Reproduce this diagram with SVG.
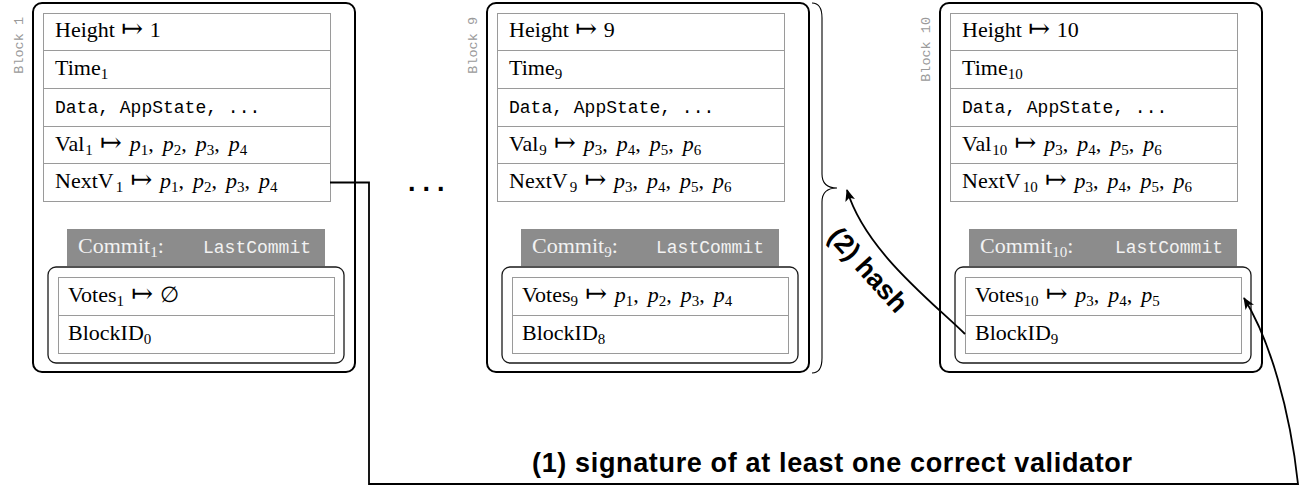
<svg xmlns="http://www.w3.org/2000/svg" width="1303" height="486" viewBox="0 0 1303 486">
<defs>
<style>
.ob{fill:#fff;stroke:#000;stroke-width:2}
.tb{fill:#fff;stroke:#9a9a9a;stroke-width:1}
.ln{fill:none;stroke:#9a9a9a;stroke-width:1}
.ib{fill:#fff;stroke:#1a1a1a;stroke-width:1.3}
.gb{fill:#8c8c8c}
.t{font-family:"Liberation Serif","DejaVu Serif",serif;font-size:22px;fill:#000}
.m{font-family:"Liberation Mono","DejaVu Sans Mono",monospace;font-size:18px;fill:#000}
.s{font-size:15px}
.ar{font-size:26px}
.i{font-style:italic}
.cm{fill:#f2f2f2}
.bl{font-family:"Liberation Mono","DejaVu Sans Mono",monospace;font-size:13.5px;fill:#9a9a9a}
.lab{font-family:"Liberation Sans","DejaVu Sans",sans-serif;font-weight:bold;font-size:27px;fill:#000}
.cn{fill:none;stroke:#000;stroke-width:1.8}
.br{fill:none;stroke:#000;stroke-width:1.1}
</style>
<marker id="ah" markerWidth="13" markerHeight="10" refX="11" refY="5" orient="auto" markerUnits="userSpaceOnUse">
<path d="M0,0 L12,5 L0,10 L3,5 z" fill="#000"/>
</marker>
</defs>
<rect width="1303" height="486" fill="#fff"/>

<g id="block1">
<text class="bl" transform="rotate(-90 23 17)" x="23" y="17" text-anchor="end">Block 1</text>
<rect class="ob" x="33" y="3" width="322" height="369" rx="9"/>
<rect class="tb" x="43.5" y="13.5" width="287" height="188"/>
<path class="ln" d="M43.5,50.5H330.5M43.5,88.5H330.5M43.5,126.5H330.5M43.5,163.5H330.5"/>
<text class="t" x="55" y="37">Height<tspan class="ar" dx="6">↦</tspan><tspan dx="7">1</tspan></text>
<text class="t" x="55" y="75">Time<tspan class="s" dy="4">1</tspan></text>
<text class="m" x="55" y="113">Data, AppState, ...</text>
<text class="t" x="55" y="151">Val<tspan class="s" dy="4" dx="1">1</tspan><tspan class="ar" dy="-4" dx="7">↦</tspan><tspan class="i" dx="8">p</tspan><tspan class="s" dy="4">1</tspan><tspan dy="-4">,</tspan><tspan class="i" dx="9">p</tspan><tspan class="s" dy="4">2</tspan><tspan dy="-4">,</tspan><tspan class="i" dx="9">p</tspan><tspan class="s" dy="4">3</tspan><tspan dy="-4">,</tspan><tspan class="i" dx="9">p</tspan><tspan class="s" dy="4">4</tspan></text>
<text class="t" x="55" y="188">NextV<tspan class="s" dy="4" dx="2">1</tspan><tspan class="ar" dy="-4" dx="7">↦</tspan><tspan class="i" dx="8">p</tspan><tspan class="s" dy="4">1</tspan><tspan dy="-4">,</tspan><tspan class="i" dx="9">p</tspan><tspan class="s" dy="4">2</tspan><tspan dy="-4">,</tspan><tspan class="i" dx="9">p</tspan><tspan class="s" dy="4">3</tspan><tspan dy="-4">,</tspan><tspan class="i" dx="9">p</tspan><tspan class="s" dy="4">4</tspan></text>
<rect class="gb" x="67" y="229" width="258" height="37"/>
<text class="t cm" x="78" y="253">Commit<tspan class="s" dy="4">1</tspan><tspan dy="-4">:</tspan></text>
<text class="m cm" x="203" y="253">LastCommit</text>
<rect class="ib" x="48" y="267" width="296" height="96" rx="8"/>
<rect class="tb" x="58.5" y="277.5" width="276" height="76"/>
<path class="ln" d="M58.5,315.5H334.5"/>
<text class="t" x="68" y="302">Votes<tspan class="s" dy="4">1</tspan><tspan class="ar" dy="-4" dx="7">↦</tspan><tspan dx="7">∅</tspan></text>
<text class="t" x="68" y="340">BlockID<tspan class="s" dy="4">0</tspan></text>
</g>

<g id="dots">
<text class="lab" x="408" y="191" letter-spacing="7">...</text>
</g>

<g id="block9" transform="translate(454,0)">
<text class="bl" transform="rotate(-90 23 17)" x="23" y="17" text-anchor="end">Block 9</text>
<rect class="ob" x="33" y="3" width="322" height="369" rx="9"/>
<rect class="tb" x="43.5" y="13.5" width="287" height="188"/>
<path class="ln" d="M43.5,50.5H330.5M43.5,88.5H330.5M43.5,126.5H330.5M43.5,163.5H330.5"/>
<text class="t" x="55" y="37">Height<tspan class="ar" dx="6">↦</tspan><tspan dx="7">9</tspan></text>
<text class="t" x="55" y="75">Time<tspan class="s" dy="4">9</tspan></text>
<text class="m" x="55" y="113">Data, AppState, ...</text>
<text class="t" x="55" y="151">Val<tspan class="s" dy="4" dx="1">9</tspan><tspan class="ar" dy="-4" dx="7">↦</tspan><tspan class="i" dx="8">p</tspan><tspan class="s" dy="4">3</tspan><tspan dy="-4">,</tspan><tspan class="i" dx="9">p</tspan><tspan class="s" dy="4">4</tspan><tspan dy="-4">,</tspan><tspan class="i" dx="9">p</tspan><tspan class="s" dy="4">5</tspan><tspan dy="-4">,</tspan><tspan class="i" dx="9">p</tspan><tspan class="s" dy="4">6</tspan></text>
<text class="t" x="55" y="188">NextV<tspan class="s" dy="4" dx="2">9</tspan><tspan class="ar" dy="-4" dx="7">↦</tspan><tspan class="i" dx="8">p</tspan><tspan class="s" dy="4">3</tspan><tspan dy="-4">,</tspan><tspan class="i" dx="9">p</tspan><tspan class="s" dy="4">4</tspan><tspan dy="-4">,</tspan><tspan class="i" dx="9">p</tspan><tspan class="s" dy="4">5</tspan><tspan dy="-4">,</tspan><tspan class="i" dx="9">p</tspan><tspan class="s" dy="4">6</tspan></text>
<rect class="gb" x="67" y="229" width="258" height="37"/>
<text class="t cm" x="78" y="253">Commit<tspan class="s" dy="4">9</tspan><tspan dy="-4">:</tspan></text>
<text class="m cm" x="202" y="253">LastCommit</text>
<rect class="ib" x="48" y="267" width="296" height="96" rx="8"/>
<rect class="tb" x="58.5" y="277.5" width="276" height="76"/>
<path class="ln" d="M58.5,315.5H334.5"/>
<text class="t" x="68" y="302">Votes<tspan class="s" dy="4">9</tspan><tspan class="ar" dy="-4" dx="7">↦</tspan><tspan class="i" dx="8">p</tspan><tspan class="s" dy="4">1</tspan><tspan dy="-4">,</tspan><tspan class="i" dx="9">p</tspan><tspan class="s" dy="4">2</tspan><tspan dy="-4">,</tspan><tspan class="i" dx="9">p</tspan><tspan class="s" dy="4">3</tspan><tspan dy="-4">,</tspan><tspan class="i" dx="9">p</tspan><tspan class="s" dy="4">4</tspan></text>
<text class="t" x="68" y="340">BlockID<tspan class="s" dy="4">8</tspan></text>
</g>

<g id="brace">
<path class="br" d="M812,3 Q822,3 822,18 L822,174 Q822,188 837,188 Q822,188 822,202 L822,358 Q822,373 812,373"/>
</g>

<g id="block10" transform="translate(907,0)">
<text class="bl" transform="rotate(-90 23 17)" x="23" y="17" text-anchor="end">Block 10</text>
<rect class="ob" x="33" y="3" width="322" height="369" rx="9"/>
<rect class="tb" x="43.5" y="13.5" width="287" height="188"/>
<path class="ln" d="M43.5,50.5H330.5M43.5,88.5H330.5M43.5,126.5H330.5M43.5,163.5H330.5"/>
<text class="t" x="55" y="37">Height<tspan class="ar" dx="6">↦</tspan><tspan dx="7">10</tspan></text>
<text class="t" x="55" y="75">Time<tspan class="s" dy="4">10</tspan></text>
<text class="m" x="55" y="113">Data, AppState, ...</text>
<text class="t" x="55" y="151">Val<tspan class="s" dy="4" dx="1">10</tspan><tspan class="ar" dy="-4" dx="7">↦</tspan><tspan class="i" dx="8">p</tspan><tspan class="s" dy="4">3</tspan><tspan dy="-4">,</tspan><tspan class="i" dx="9">p</tspan><tspan class="s" dy="4">4</tspan><tspan dy="-4">,</tspan><tspan class="i" dx="9">p</tspan><tspan class="s" dy="4">5</tspan><tspan dy="-4">,</tspan><tspan class="i" dx="9">p</tspan><tspan class="s" dy="4">6</tspan></text>
<text class="t" x="55" y="188">NextV<tspan class="s" dy="4" dx="2">10</tspan><tspan class="ar" dy="-4" dx="7">↦</tspan><tspan class="i" dx="8">p</tspan><tspan class="s" dy="4">3</tspan><tspan dy="-4">,</tspan><tspan class="i" dx="9">p</tspan><tspan class="s" dy="4">4</tspan><tspan dy="-4">,</tspan><tspan class="i" dx="9">p</tspan><tspan class="s" dy="4">5</tspan><tspan dy="-4">,</tspan><tspan class="i" dx="9">p</tspan><tspan class="s" dy="4">6</tspan></text>
<rect class="gb" x="62" y="229" width="268" height="37"/>
<text class="t cm" x="73" y="253">Commit<tspan class="s" dy="4">10</tspan><tspan dy="-4">:</tspan></text>
<text class="m cm" x="208" y="253">LastCommit</text>
<rect class="ib" x="48" y="267" width="296" height="96" rx="8"/>
<rect class="tb" x="58.5" y="277.5" width="276" height="76"/>
<path class="ln" d="M58.5,315.5H334.5"/>
<text class="t" x="68" y="302">Votes<tspan class="s" dy="4">10</tspan><tspan class="ar" dy="-4" dx="7">↦</tspan><tspan class="i" dx="8">p</tspan><tspan class="s" dy="4">3</tspan><tspan dy="-4">,</tspan><tspan class="i" dx="9">p</tspan><tspan class="s" dy="4">4</tspan><tspan dy="-4">,</tspan><tspan class="i" dx="9">p</tspan><tspan class="s" dy="4">5</tspan></text>
<text class="t" x="68" y="340">BlockID<tspan class="s" dy="4">9</tspan></text>
</g>

<g id="connectors">
<path class="cn" d="M330,182.5 H369 V484 H1298 C1290,410 1270,340 1244,298" marker-end="url(#ah)"/>
<path class="cn" d="M965,334 C930,300 865,250 847,190" marker-end="url(#ah)"/>
<text class="lab" x="832" y="472" text-anchor="middle" textLength="600" lengthAdjust="spacing">(1) signature of at least one correct validator</text>
<text class="lab" transform="translate(868,270) rotate(48)" x="0" y="9" text-anchor="middle">(2) hash</text>
</g>
</svg>
